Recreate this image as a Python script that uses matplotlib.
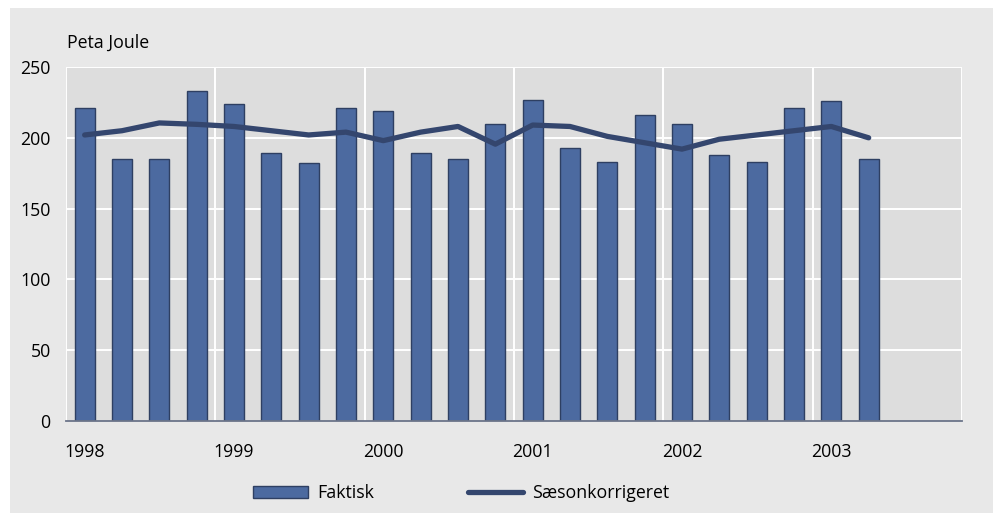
import matplotlib
matplotlib.use("Agg")
import matplotlib.pyplot as plt
from matplotlib.patches import Rectangle, Patch
from matplotlib.lines import Line2D
import numpy as np

plt.rcParams['font.family'] = ['Open Sans', 'DejaVu Sans']

years = ["1998", "1999", "2000", "2001", "2002", "2003"]
faktisk = [221, 185, 185, 233,
           224, 189, 182, 221,
           219, 189, 185, 210,
           227, 193, 183, 216,
           210, 188, 183, 221,
           226, 185]
saeson = [202, 205, 210.5, 209.5,
          208, 205, 202, 204,
          198, 204, 208, 195.5,
          209, 208, 201, 196.5,
          192, 199, 202, 205,
          208, 200]
y_ticks = [0, 50, 100, 150, 200, 250]
unit_label = "Peta Joule"
legend_labels = ["Faktisk", "Sæsonkorrigeret"]

W, H = 997, 513
fig = plt.figure(figsize=(W / 100, H / 100), dpi=100)
fig.patch.set_facecolor("white")
fig.add_artist(Rectangle((10 / W, 0), (993 - 10) / W, (H - 8) / H,
                         transform=fig.transFigure, facecolor="#e8e8e8",
                         edgecolor="none", zorder=0))

ax = fig.add_axes([66 / W, (H - 421) / H, (962 - 66) / W, (421 - 67) / H])
ax.set_facecolor("#dddddd")

bar_color = "#4c6aa0"
edge_color = "#2e3f62"
line_color = "#34466e"
text_color = "#000000"

x = np.arange(len(faktisk))
n_slots = 4 * len(years)
ax.set_xlim(-0.5, n_slots - 0.5)
ax.set_ylim(0, 250)

# grid lines
for yv in y_ticks[1:]:
    ax.axhline(yv, color="white", lw=1.4, zorder=1)
for i in range(len(years) + 1):
    ax.axvline(4 * i - 0.5, color="white", lw=1.4, zorder=1)

ax.bar(x, faktisk, width=0.54, color=bar_color, edgecolor=edge_color,
       linewidth=1.0, zorder=2)
ax.plot(x, saeson, color=line_color, lw=3.8, solid_capstyle="round",
        solid_joinstyle="round", zorder=3)

for s in ["top", "right", "left"]:
    ax.spines[s].set_visible(False)
ax.spines["bottom"].set_color("#6b7489")
ax.spines["bottom"].set_linewidth(1.3)
ax.spines["bottom"].set_zorder(4)

ax.set_yticks(y_ticks)
ax.set_yticklabels([str(v) for v in y_ticks], fontsize=12.8, color=text_color)
ax.set_xticks(np.arange(len(years)) * 4)
ax.set_xticklabels(years, fontsize=12.8, color=text_color)
ax.tick_params(axis="both", length=0)
ax.tick_params(axis="y", pad=11)
ax.tick_params(axis="x", pad=15.5)

fig.text(67 / W, (H - 43) / H, unit_label, fontsize=12.8, color=text_color,
         ha="left", va="center")

handles = [Patch(facecolor=bar_color, edgecolor=edge_color, linewidth=1.0),
           Line2D([0], [0], color=line_color, lw=3.8, solid_capstyle="round")]
fig.legend(handles, legend_labels, loc="center",
           bbox_to_anchor=(461 / W, 20 / H), ncol=2, frameon=False,
           fontsize=12.8, handlelength=3.1, handleheight=0.65,
           handletextpad=0.5, columnspacing=5.3)

fig.savefig("out.png", dpi=100)
